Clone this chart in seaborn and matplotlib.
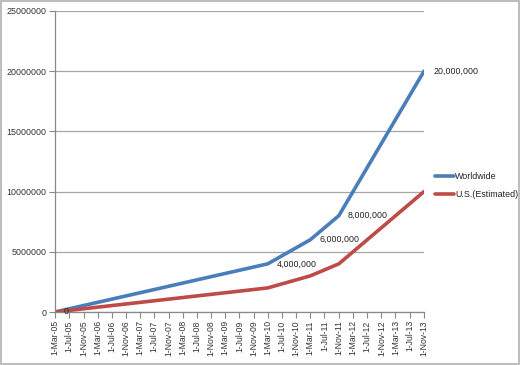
import pandas as pd
import seaborn as sns
import matplotlib.pyplot as plt
from matplotlib.patches import Rectangle

# data
dates = ["2005-03-01", "2010-03-01", "2011-03-01", "2011-11-01", "2013-11-01"]
worldwide = [0, 4000000, 6000000, 8000000, 20000000]
us_estimated = [0, 2000000, 3000000, 4000000, 10000000]
point_labels = ["0", "4,000,000", "6,000,000", "8,000,000", "20,000,000"]

df = pd.DataFrame({
    "date": pd.to_datetime(dates * 2),
    "users": worldwide + us_estimated,
    "series": ["Worldwide"] * len(dates) + ["U.S.(Estimated)"] * len(dates),
})

sns.set_style("white")
plt.rcParams["font.family"] = ["Liberation Sans", "DejaVu Sans"]

fig = plt.figure(figsize=(5.2, 3.65), dpi=100)
ax = fig.add_axes([55 / 520, 1 - 312 / 365, (424 - 55) / 520, (312 - 11) / 365])

sns.lineplot(data=df, x="date", y="users", hue="series",
             palette={"Worldwide": "#4a7ebb", "U.S.(Estimated)": "#be4b48"},
             linewidth=2.6, ax=ax)

# axes ranges and ticks
ticks = pd.date_range("2005-03-01", "2013-11-01", freq="4MS")
ax.set_xlim(ticks[0], ticks[-1])
ax.set_ylim(0, 25000000)
ax.set_xticks(ticks)
ax.set_xticklabels([f"{t.day}-{t.strftime('%b-%y')}" for t in ticks],
                   rotation=90, fontsize=6.2, color="#333333")
ax.set_yticks(range(0, 25000001, 5000000))
ax.set_yticklabels([str(v) for v in range(0, 25000001, 5000000)],
                   fontsize=6.4, color="#333333")
ax.set_xlabel("")
ax.set_ylabel("")

ax.yaxis.grid(True, color="#a6a6a6", linewidth=0.9)
ax.set_axisbelow(True)
for side in ["top", "right"]:
    ax.spines[side].set_visible(False)
for side in ["left", "bottom"]:
    ax.spines[side].set_color("#888888")
    ax.spines[side].set_linewidth(0.9)
ax.tick_params(axis="both", direction="out", length=4, width=0.8,
               color="#888888", pad=2, bottom=True, left=True)

# data labels for the worldwide series, right of each point
for d, v, lab in zip(pd.to_datetime(dates), worldwide, point_labels):
    ax.annotate(lab, (d, v), xytext=(6.5, 0), textcoords="offset points",
                fontsize=6.4, color="#222222", va="center", ha="left",
                annotation_clip=False)

leg = ax.legend(loc="center left", bbox_to_anchor=(1.02, 0.42), frameon=False,
                borderaxespad=0, borderpad=0.4,
                fontsize=6.4, handlelength=2.2, handletextpad=0.1, labelspacing=1.0)
for t in leg.get_texts():
    t.set_color("#222222")

fig.patches.append(Rectangle((0.002, 0.003), 0.996, 0.994, transform=fig.transFigure,
                             fill=False, edgecolor="#b0b0b0", linewidth=1.2))

fig.savefig("out.png", dpi=100)
